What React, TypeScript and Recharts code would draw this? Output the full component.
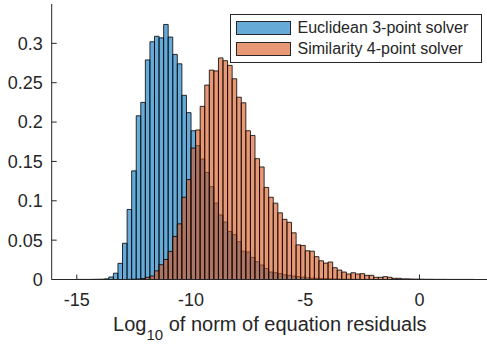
import { BarChart, Bar, XAxis, YAxis, Label } from 'recharts'

// bin centres, bin width 0.2
const binCenters = [
  -14.9, -14.7, -14.5, -14.3, -14.1, -13.9, -13.7, -13.5, -13.3, -13.1,
  -12.9, -12.7, -12.5, -12.3, -12.1, -11.9, -11.7, -11.5, -11.3, -11.1,
  -10.9, -10.7, -10.5, -10.3, -10.1, -9.9, -9.7, -9.5, -9.3, -9.1,
  -8.9, -8.7, -8.5, -8.3, -8.1, -7.9, -7.7, -7.5, -7.3, -7.1,
  -6.9, -6.7, -6.5, -6.3, -6.1, -5.9, -5.7, -5.5, -5.3, -5.1,
  -4.9, -4.7, -4.5, -4.3, -4.1, -3.9, -3.7, -3.5, -3.3, -3.1,
  -2.9, -2.7, -2.5, -2.3, -2.1, -1.9, -1.7, -1.5, -1.3, -1.1,
  -0.9, -0.7, -0.5, -0.3, -0.1, 0.1, 0.3, 0.5, 0.7, 0.9,
  1.1, 1.3, 1.5, 1.7, 1.9, 2.1, 2.3,
]

// Euclidean 3-point solver, first bin centred at -14.9
const euclideanStart = -14.9
const euclidean = [
  0.0001, 0.0001, 0.0001, 0.0002, 0.0003, 0.0004, 0.0008, 0.0032, 0.008, 0.0205,
  0.046, 0.089, 0.138, 0.208, 0.225, 0.279, 0.302, 0.309, 0.307, 0.324,
  0.308, 0.286, 0.274, 0.234, 0.212, 0.189, 0.17, 0.153, 0.136, 0.118,
  0.097, 0.082, 0.073, 0.061, 0.057, 0.048, 0.036, 0.035, 0.028, 0.0226,
  0.0184, 0.014, 0.0095, 0.0086, 0.0075, 0.006, 0.0053, 0.0044, 0.0036, 0.0028,
  0.0022, 0.0018, 0.0015, 0.0012, 0.001, 0.0008, 0.0006, 0.0005, 0.0004, 0.0003,
  0.0002, 0.0002, 0.0001, 0.0001,
]

// Similarity 4-point solver, first bin centred at -12.7
const similarityStart = -12.7
const similarity = [
  0.0002, 0.0004, 0.0006, 0.0012, 0.0028, 0.0044, 0.011, 0.0188, 0.0255, 0.0357,
  0.0547, 0.0707, 0.1045, 0.127, 0.167, 0.19, 0.22, 0.247, 0.266, 0.265,
  0.2815, 0.278, 0.272, 0.255, 0.2316, 0.2245, 0.189, 0.183, 0.1535, 0.143,
  0.117, 0.1045, 0.097, 0.0847, 0.0765, 0.0727, 0.0593, 0.044, 0.0433, 0.0365,
  0.036, 0.029, 0.0238, 0.0209, 0.0222, 0.015, 0.012, 0.0095, 0.007, 0.0086,
  0.007, 0.0074, 0.0053, 0.0053, 0.0028, 0.0028, 0.0036, 0.0028, 0.0015, 0.0015,
  0.0008, 0.0008, 0.0006, 0.0005, 0.0004, 0.0003, 0.0003, 0.0002, 0.0002, 0.0002,
  0.0001, 0.0001, 0.0001, 0.0001, 0.0001, 0.0001,
]

const xTicks = [-15, -10, -5, 0]
const yTicks = [0, 0.05, 0.1, 0.15, 0.2, 0.25, 0.3]
const xDomain = [-16.1, 3]
const yDomain = [0, 0.35]

const data = binCenters.map((x) => {
  const ei = Math.round((x - euclideanStart) / 0.2)
  const si = Math.round((x - similarityStart) / 0.2)
  return {
    x,
    euclidean: euclidean[ei] ?? null,
    similarity: similarity[si] ?? null,
  }
})

const FONT = '"Liberation Sans", Arial, sans-serif'
const INK = '#262626'

const XLabel = (props: any) => {
  const vb = props.viewBox || { x: 51.7, y: 279.5, width: 436 }
  const cx = vb.x + vb.width / 2
  return (
    <text x={cx} y={vb.y + 51.5} textAnchor="middle" fontSize={20} fill={INK} fontFamily={FONT}>
      Log
      <tspan fontSize={15} dy={9}>10</tspan>
      <tspan dy={-9}> of norm of equation residuals</tspan>
    </text>
  )
}

export default function App() {
  return (
    <div style={{ position: 'fixed', left: 0, top: 0, width: 487, height: 345, overflow: 'hidden', background: '#fff', fontFamily: FONT }}>
      <BarChart width={488} height={345} data={data} margin={{ top: 4, right: 0, bottom: 0, left: 0 }} barCategoryGap={0} barGap={0}>
        <XAxis
          xAxisId="a"
          dataKey="x"
          type="number"
          domain={xDomain}
          ticks={xTicks}
          interval={0}
          allowDataOverflow
          height={65.5}
          tickSize={-5}
          tickMargin={19}
          stroke={INK}
          tick={{ fontSize: 18, fill: INK, fontFamily: FONT }}
        >
          <Label content={XLabel} />
        </XAxis>
        <XAxis xAxisId="b" dataKey="x" type="number" domain={xDomain} allowDataOverflow hide />
        <XAxis
          xAxisId="top"
          dataKey="x"
          orientation="top"
          type="number"
          domain={xDomain}
          ticks={xTicks}
          interval={0}
          allowDataOverflow
          height={0}
          tick={false}
          tickSize={-5}
          stroke={INK}
        />
        <YAxis
          domain={yDomain}
          ticks={yTicks}
          interval={0}
          allowDataOverflow
          width={51.7}
          tickSize={-5}
          tickMargin={14}
          stroke={INK}
          tick={{ fontSize: 18, fill: INK, fontFamily: FONT }}
        />
        <YAxis
          yAxisId="r"
          orientation="right"
          domain={yDomain}
          ticks={yTicks}
          interval={0}
          width={0}
          tick={false}
          tickSize={-5}
          stroke={INK}
        />
        <Bar
          xAxisId="a"
          dataKey="euclidean"
          fill="#0072BD"
          fillOpacity={0.6}
          stroke="#000"
          strokeWidth={0.8}
          barSize={4.56}
          isAnimationActive={false}
        />
        <Bar
          xAxisId="b"
          dataKey="similarity"
          fill="#D95319"
          fillOpacity={0.6}
          stroke="#000"
          strokeWidth={0.8}
          barSize={4.56}
          isAnimationActive={false}
        />
      </BarChart>

      {/* Legend box */}
      <div
        style={{
          position: 'absolute',
          left: 230,
          top: 14,
          width: 252,
          height: 49,
          boxSizing: 'border-box',
          border: `1px solid ${INK}`,
          background: '#fff',
          fontSize: 16,
          color: INK,
        }}
      >
        <div style={{ position: 'absolute', left: 5, top: 5.5, width: 55, height: 14.5, boxSizing: 'border-box', border: `1px solid ${INK}`, background: '#66AAD7' }} />
        <div style={{ position: 'absolute', left: 66.5, top: 3, lineHeight: '20px', whiteSpace: 'nowrap' }}>Euclidean 3-point solver</div>
        <div style={{ position: 'absolute', left: 5, top: 26.5, width: 55, height: 14.5, boxSizing: 'border-box', border: `1px solid ${INK}`, background: '#E89875' }} />
        <div style={{ position: 'absolute', left: 66.5, top: 24, lineHeight: '20px', whiteSpace: 'nowrap' }}>Similarity 4-point solver</div>
      </div>
    </div>
  )
}
